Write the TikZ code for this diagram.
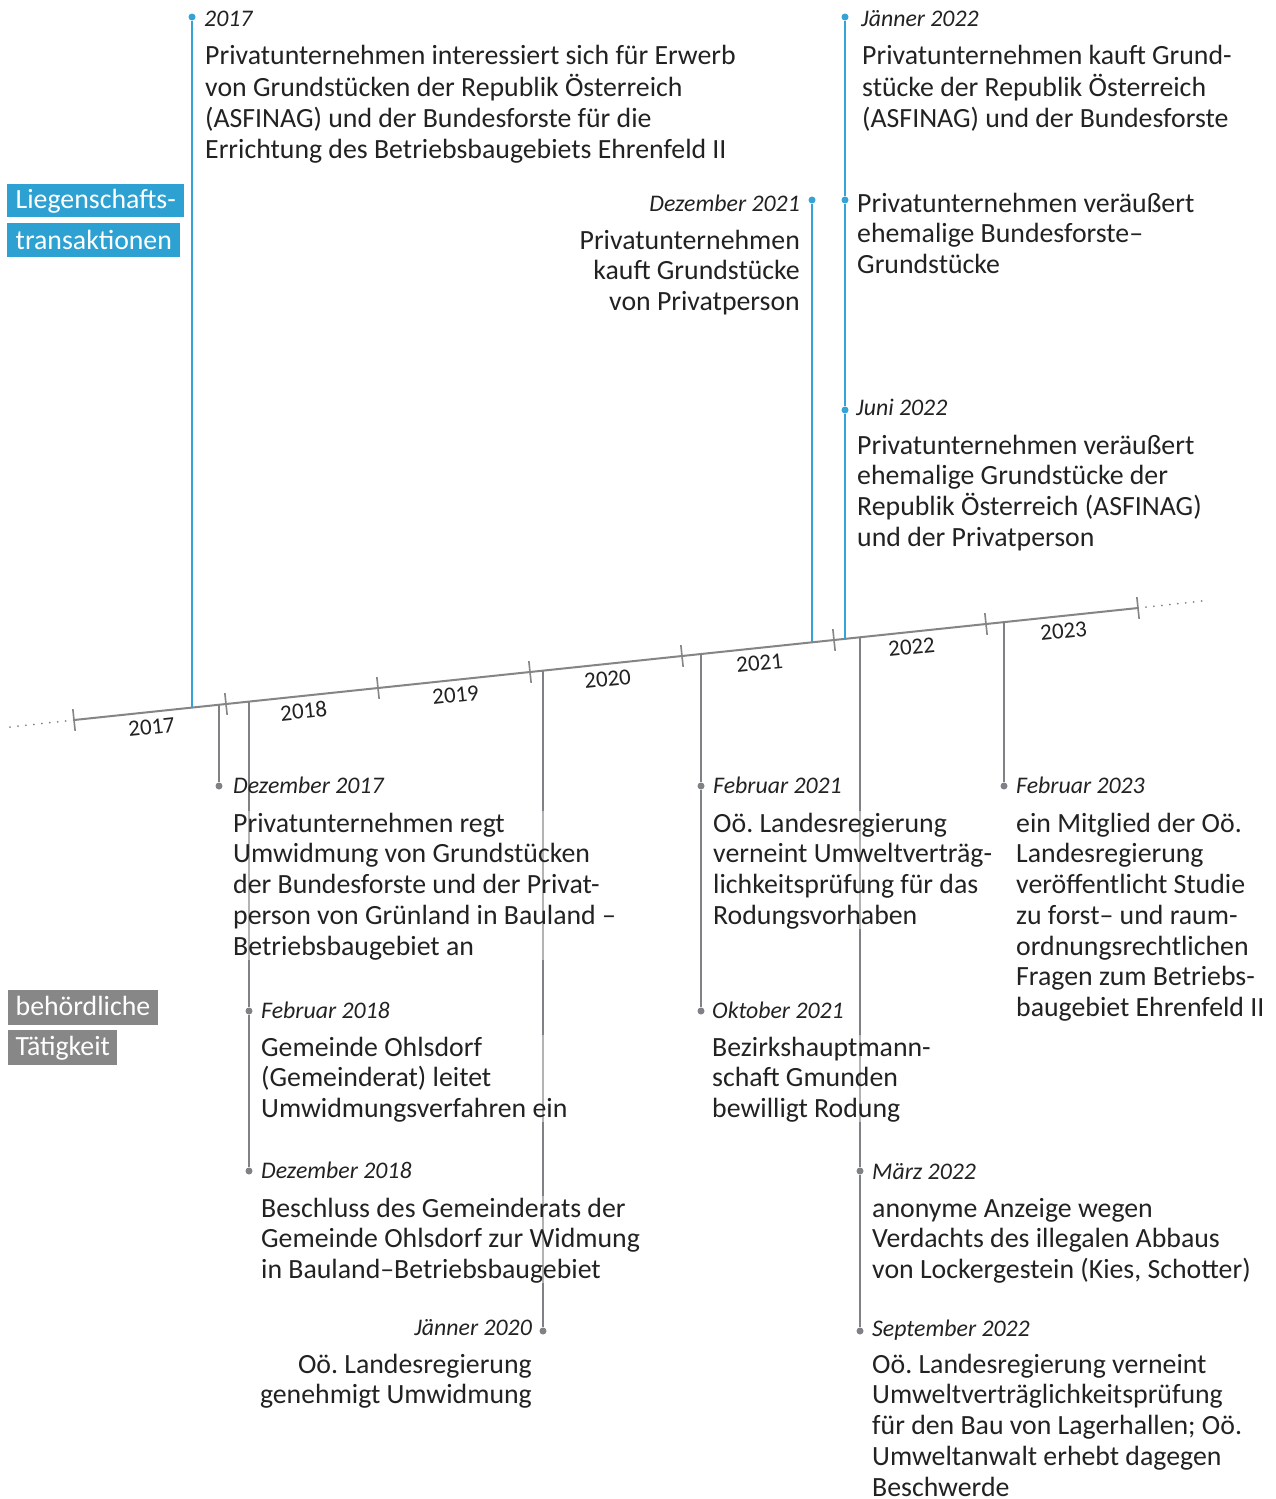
\documentclass[tikz,border=0pt]{standalone}
\usepackage{fontspec}
\setmainfont{Carlito}
\usetikzlibrary{calc}
\frenchspacing
\definecolor{tlblue}{HTML}{35A3D6}
\definecolor{lblblue}{HTML}{2EA1D3}
\definecolor{tlgray}{HTML}{7F8184}
\definecolor{axgray}{HTML}{858585}
\definecolor{lblgray}{HTML}{878787}
\definecolor{txt}{HTML}{222222}
\newcommand\bodyfont{\fontsize{27.8}{30.7}\selectfont\frenchspacing}
\newcommand\datefont{\fontsize{23.8}{26}\selectfont\itshape}
\newcommand\yearfont{\fontsize{23}{26}\selectfont}
\newcommand\lblfont{\fontsize{27.8}{30}\selectfont}
\tikzset{
  body/.style={anchor=north west, inner sep=0, align=left, font=\bodyfont, text=txt, fill=white, fill opacity=0.4, text opacity=1},
  bodyr/.style={body, anchor=north east, align=right},
  datel/.style={anchor=base west, inner sep=0, font=\datefont, text=txt},
  dater/.style={datel, anchor=base east},
  bdot/.style={circle, fill=tlblue, inner sep=0, minimum size=7},
  gdot/.style={circle, fill=tlgray, inner sep=0, minimum size=7},
  bline/.style={draw=tlblue, line width=2.3},
  gline/.style={draw=tlgray, line width=2.3},
  axis/.style={draw=axgray, line width=2},
  tickmark/.style={draw=axgray, line width=1.6},
  dotext/.style={draw=axgray, line width=2, line cap=round, dash pattern=on 0pt off 8pt},
  yearlbl/.style={font=\yearfont, text=txt, rotate=6, inner sep=0},
  bluelbl/.style={fill=lblblue, text=white, font=\lblfont, anchor=base west, inner xsep=8.5, inner ysep=0},
  graylbl/.style={fill=lblgray, text=white, font=\lblfont, anchor=base west, inner xsep=7.5, inner ysep=0}
}
\begin{document}
\begin{tikzpicture}[x=1pt,y=-1pt]
\useasboundingbox[fill=white] (0,0) rectangle (1276,1499);

% ---------------- axis ----------------
\coordinate (A0) at (74,720);
\coordinate (A7) at (1138,608);
\coordinate (EL) at (10,727);
\coordinate (ER) at (1207,600.5);
\draw[axis] (A0) -- (A7);
\draw[dotext] (EL) -- (A0);
\draw[dotext] (A7) -- (ER);
\foreach \k in {0,...,7}{
  \coordinate (T\k a) at ({74+152*\k-1.15},{720-16*\k-10.9});
  \coordinate (T\k b) at ({74+152*\k+1.15},{720-16*\k+10.9});
  \draw[tickmark] (T\k a) -- (T\k b);
}
\foreach \k/\yr in {0/2017,1/2018,2/2019,3/2020,4/2021,5/2022,6/2023}{
  \node[yearlbl] (Y\yr) at ({150+152*\k+1.6},{712-16*\k+14.9}) {\yr};
}

% ---------------- category labels ----------------
\node[bluelbl, text height=24, text depth=9] (L1) at (7,208) {Liegenschafts-};
\node[bluelbl, text height=26, text depth=8] (L2) at (7,249) {transaktionen};
\node[graylbl, text height=25, text depth=10] (L3) at (8,1015) {behördliche};
\node[graylbl, text height=25, text depth=10] (L4) at (8,1055) {Tätigkeit};

% ---------------- top: blue events ----------------
\coordinate (a1) at (192,707.6);
\node[bdot] (d1) at (192,17) {};
\draw[bline] (a1) -- (d1);

\coordinate (a2) at (812,642.3);
\node[bdot] (d2) at (812,200) {};
\draw[bline] (a2) -- (d2);

\coordinate (a3) at (845,638.8);
\node[bdot] (d3a) at (845,17) {};
\node[bdot] (d3b) at (845,200) {};
\node[bdot] (d3c) at (845,410) {};
\draw[bline] (a3) -- (d3c) -- (d3b) -- (d3a);

\node[datel] (t1) at (204,27) {2017};
\node[body] (b1) at (205,42.5) {\strut Privatunternehmen interessiert sich für Erwerb\\von Grundstücken der Republik Österreich\\(ASFINAG) und der Bundesforste für die\\Errichtung des Betriebsbaugebiets Ehrenfeld II};

\node[dater] (t2) at (800,211) {Dezember 2021};
\node[bodyr] (b2) at (800,227.5) {\strut Privatunternehmen\\kauft Grundstücke\\von Privatperson};

\node[datel] (t3) at (861,27) {Jänner 2022};
\node[body] (b3) at (862,42.5) {\strut Privatunternehmen kauft Grund-\\stücke der Republik Österreich\\(ASFINAG) und der Bundesforste};

\node[body] (b3b) at (857,190.5) {\strut Privatunternehmen veräußert\\ehemalige Bundesforste--\\Grundstücke};

\node[datel] (t3c) at (856,415) {Juni 2022};
\node[body] (b3c) at (857,432.5) {\strut Privatunternehmen veräußert\\ehemalige Grundstücke der\\Republik Österreich (ASFINAG)\\und der Privatperson};

% ---------------- bottom: gray events ----------------
\coordinate (ga) at (219,704.7);
\node[gdot] (ea) at (219,786) {};
\draw[gline] (ga) -- (ea);

\coordinate (gb) at (249,701.6);
\node[gdot] (eb1) at (249,1011) {};
\node[gdot] (eb2) at (249,1171) {};
\draw[gline] (gb) -- (eb1) -- (eb2);

\coordinate (gc) at (543,670.6);
\node[gdot] (ec) at (543,1331) {};
\draw[gline] (gc) -- (ec);

\coordinate (gd) at (701,654.0);
\node[gdot] (ed1) at (701,786) {};
\node[gdot] (ed2) at (701,1011) {};
\draw[gline] (gd) -- (ed1) -- (ed2);

\coordinate (ge) at (860,637.3);
\node[gdot] (ee1) at (860,1171) {};
\node[gdot] (ee2) at (860,1331) {};
\draw[gline] (ge) -- (ee1) -- (ee2);

\coordinate (gf) at (1004,622.1);
\node[gdot] (ef) at (1004,786) {};
\draw[gline] (gf) -- (ef);

\node[datel] (sa) at (233,793) {Dezember 2017};
\node[body] (ba) at (233,810.5) {\strut Privatunternehmen regt\\Umwidmung von Grundstücken\\der Bundesforste und der Privat-\\person von Grünland in Bauland --\\Betriebsbaugebiet an};

\node[datel] (sb1) at (261,1018) {Februar 2018};
\node[body] (bb1) at (261,1034.5) {\strut Gemeinde Ohlsdorf\\(Gemeinderat) leitet\\Umwidmungsverfahren ein};

\node[datel] (sb2) at (261,1178) {Dezember 2018};
\node[body] (bb2) at (261,1195.5) {\strut Beschluss des Gemeinderats der\\Gemeinde Ohlsdorf zur Widmung\\in Bauland--Betriebsbaugebiet};

\node[dater] (sc) at (532,1335) {Jänner 2020};
\node[bodyr] (bc) at (532,1351.5) {\strut Oö. Landesregierung\\genehmigt Umwidmung};

\node[datel] (sd1) at (713,793) {Februar 2021};
\node[body] (bd1) at (713,810.5) {\strut Oö. Landesregierung\\verneint Umweltverträg-\\lichkeitsprüfung für das\\Rodungsvorhaben};

\node[datel] (sd2) at (712,1018) {Oktober 2021};
\node[body] (bd2) at (712,1034.5) {\strut Bezirkshauptmann-\\schaft Gmunden\\bewilligt Rodung};

\node[datel] (se1) at (872,1179) {März 2022};
\node[body] (be1) at (872,1195.5) {\strut anonyme Anzeige wegen\\Verdachts des illegalen Abbaus\\von Lockergestein (Kies, Schotter)};

\node[datel] (se2) at (872,1336) {September 2022};
\node[body] (be2) at (872,1351.5) {\strut Oö. Landesregierung verneint\\Umweltverträglichkeitsprüfung\\für den Bau von Lagerhallen; Oö.\\Umweltanwalt erhebt dagegen\\Beschwerde};

\node[datel] (sf) at (1016,793) {Februar 2023};
\node[body] (bf) at (1016,810.5) {\strut ein Mitglied der Oö.\\Landesregierung\\veröffentlicht Studie\\zu forst-- und raum-\\ordnungsrechtlichen\\Fragen zum Betriebs-\\baugebiet Ehrenfeld II};
\end{tikzpicture}
\end{document}
